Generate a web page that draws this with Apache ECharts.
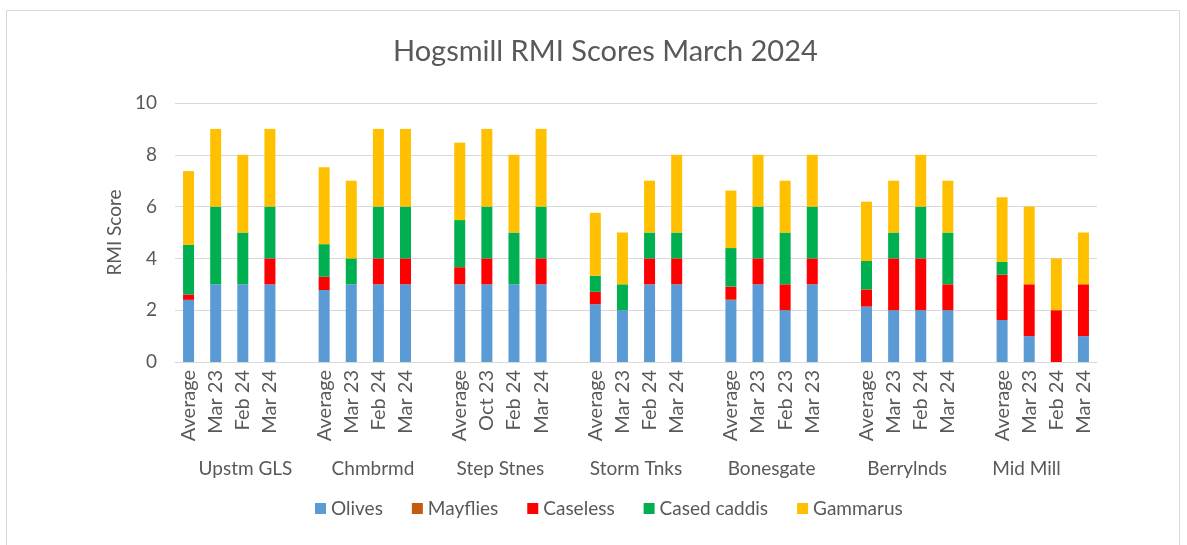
<!DOCTYPE html>
<html>
<head>
    <meta charset="utf-8">
    <title>Hogsmill RMI Scores March 2024</title>
    <script src="https://cdnjs.cloudflare.com/ajax/libs/echarts/6.0.0/echarts.min.js"></script>
    <style>
        html, body {margin: 0; padding: 0; background: #fff;}
        #main {width: 1187px; height: 545px;}
    </style>
</head>
<body>
<div id="main"></div>

<script>
    // sites and sampling dates
    const groups = ['Upstm GLS', 'Chmbrmd', 'Step Stnes', 'Storm Tnks', 'Bonesgate', 'Berrylnds', 'Mid Mill'];
    // where each site name sits, in category widths from the left of the plot
    const groupLabelPos = [2.6, 7.3, 12.0, 17.0, 22.0, 27.0, 31.4];
    const samples = [
        ['Average', 'Mar 23', 'Feb 24', 'Mar 24'],
        ['Average', 'Mar 23', 'Feb 24', 'Mar 24'],
        ['Average', 'Oct 23', 'Feb 24', 'Mar 24'],
        ['Average', 'Mar 23', 'Feb 24', 'Mar 24'],
        ['Average', 'Mar 23', 'Feb 23', 'Mar 23'],
        ['Average', 'Mar 23', 'Feb 24', 'Mar 24'],
        ['Average', 'Mar 23', 'Feb 24', 'Mar 24']
    ];

    // scores per site (Average, then the three samples)
    const olives = [[2.4, 3, 3, 3], [2.78, 3, 3, 3], [3, 3, 3, 3], [2.23, 2, 3, 3], [2.39, 3, 2, 3], [2.14, 2, 2, 2], [1.62, 1, 0, 1]];
    const mayflies = [[0, 0, 0, 0], [0, 0, 0, 0], [0, 0, 0, 0], [0, 0, 0, 0], [0.04, 0, 0, 0], [0, 0, 0, 0], [0, 0, 0, 0]];
    const caseless = [[0.21, 0, 0, 1], [0.51, 0, 1, 1], [0.66, 1, 0, 1], [0.48, 0, 1, 1], [0.48, 1, 1, 1], [0.66, 2, 2, 1], [1.75, 2, 2, 2]];
    const casedCaddis = [[1.91, 3, 2, 2], [1.26, 1, 2, 2], [1.82, 2, 2, 2], [0.62, 1, 1, 1], [1.49, 2, 2, 2], [1.1, 1, 2, 2], [0.49, 0, 0, 0]];
    const gammarus = [[2.85, 3, 3, 3], [2.97, 3, 3, 3], [2.99, 3, 3, 3], [2.43, 2, 2, 3], [2.22, 2, 2, 2], [2.29, 2, 2, 2], [2.5, 3, 2, 2]];

    const seriesNames = ['Olives', 'Mayflies', 'Caseless', 'Cased caddis', 'Gammarus'];
    const seriesColors = ['#5B9BD5', '#C55A11', '#FF0000', '#00B050', '#FFC000'];
    const seriesData = [olives, mayflies, caseless, casedCaddis, gammarus];

    // flatten with an empty slot between sites
    let categories = [];
    groups.forEach(function (g, i) {
        if (i > 0) categories.push('');
        categories = categories.concat(samples[i]);
    });

    function flatten(arr) {
        let out = [];
        arr.forEach(function (vals, i) {
            if (i > 0) out.push(null);
            out = out.concat(vals);
        });
        return out;
    }

    // site names go on a fine axis (tenths of a category) laid over the plot width
    const steps = 10;
    let siteLabels = [];
    for (let k = 0; k <= categories.length * steps; k++) siteLabels.push('');
    groups.forEach(function (g, i) {
        siteLabels[Math.round(groupLabelPos[i] * steps)] = g;
    });

    const font = 'Lato, "Open Sans", sans-serif';
    const grey = '#595959';

    var myChart = echarts.init(document.getElementById('main'));

    myChart.setOption({
        animation: false,
        textStyle: {fontFamily: font},
        title: {
            text: 'Hogsmill RMI Scores March 2024',
            left: 388,
            top: 32,
            textStyle: {fontSize: 29, fontWeight: 'normal', color: grey, fontFamily: font}
        },
        legend: {
            bottom: 22,
            left: 310,
            itemWidth: 11,
            itemHeight: 11,
            itemGap: 29,
            icon: 'rect',
            textStyle: {fontSize: 19, color: grey, fontFamily: font}
        },
        graphic: [{
            type: 'rect',
            shape: {x: 6.5, y: 10.5, width: 1173, height: 600},
            style: {fill: 'none', stroke: '#d9d9d9', lineWidth: 1},
            silent: true
        }],
        grid: {left: 175, right: 90, top: 103, bottom: 183},
        xAxis: [
            {
                type: 'category',
                data: categories,
                axisLine: {lineStyle: {color: '#d9d9d9'}},
                axisTick: {show: false},
                axisLabel: {rotate: 90, interval: 0, fontSize: 20, color: grey, margin: 8}
            },
            {
                type: 'category',
                data: siteLabels,
                position: 'bottom',
                offset: 89,
                boundaryGap: false,
                axisLine: {show: false},
                axisTick: {show: false},
                axisLabel: {interval: 0, fontSize: 19, color: grey, margin: 8}
            }
        ],
        yAxis: {
            type: 'value',
            min: 0,
            max: 10,
            interval: 2,
            name: 'RMI Score',
            nameLocation: 'middle',
            nameGap: 50,
            nameRotate: 90,
            nameTextStyle: {fontSize: 19, color: grey},
            axisLine: {show: false},
            axisTick: {show: false},
            axisLabel: {fontSize: 19, color: grey, margin: 18},
            splitLine: {lineStyle: {color: '#d9d9d9'}}
        },
        series: seriesNames.map(function (name, i) {
            return {
                name: name,
                type: 'bar',
                stack: 'rmi',
                barWidth: 11,
                itemStyle: {color: seriesColors[i]},
                data: flatten(seriesData[i])
            };
        })
    });
</script>
</body>
</html>
